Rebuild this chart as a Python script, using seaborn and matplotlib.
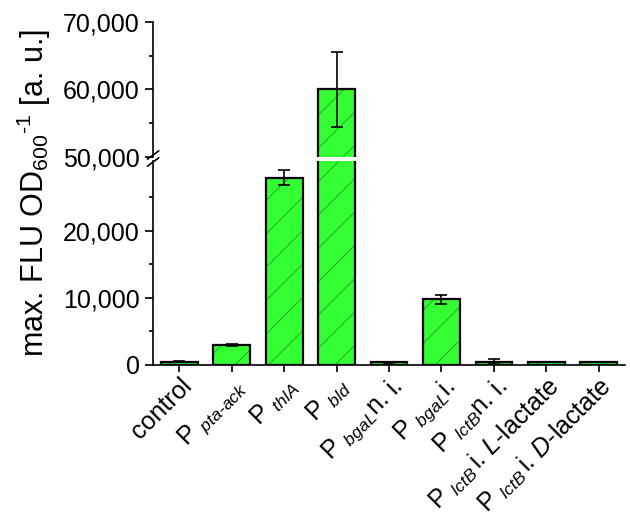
import matplotlib
matplotlib.use("Agg")
import matplotlib.pyplot as plt
import matplotlib.ticker as mticker
from matplotlib.patches import Rectangle
import seaborn as sns
import pandas as pd

# data
labels = [
    "control",
    r"P $_{pta\text{-}ack}$",
    r"P $_{thlA}$",
    r"P $_{bld}$",
    r"P $_{bgaL}$n. i.",
    r"P $_{bgaL}$i.",
    r"P $_{lctB}$n. i.",
    r"P $_{lctB}\,$i. $L$-lactate",
    r"P $_{lctB}\,$i. $D$-lactate",
]
values = [500, 3000, 27900, 60000, 400, 9800, 500, 450, 450]
errors = [80, 150, 1100, 5600, 60, 700, 350, 60, 60]

df = pd.DataFrame({"promoter": labels, "flu": values})

sns.set_style("ticks")
plt.rcParams["font.family"] = ["Liberation Sans", "DejaVu Sans"]
plt.rcParams["mathtext.fontset"] = "custom"
plt.rcParams["mathtext.rm"] = "Liberation Sans"
plt.rcParams["mathtext.it"] = "Liberation Sans:italic"
plt.rcParams["mathtext.bf"] = "Liberation Sans:bold"
plt.rcParams["hatch.linewidth"] = 0.6
for key in ("text.color", "xtick.color", "ytick.color", "axes.edgecolor",
            "axes.labelcolor"):
    plt.rcParams[key] = "black"

fig = plt.figure(figsize=(6.3, 5.22), dpi=100)
ax_top = fig.add_axes([0.243, 1 - 157 / 522, 0.749, (157 - 22) / 522])
ax_bot = fig.add_axes([0.243, 1 - 365 / 522, 0.749, (365 - 161) / 522])

for ax in (ax_top, ax_bot):
    sns.barplot(data=df, x="promoter", y="flu", ax=ax, color="#33ff33",
                edgecolor="#249a24", linewidth=0, width=0.7, errorbar=None,
                saturation=1, hatch="/")
    # black outline on top of the green hatch
    for p in list(ax.patches):
        ax.add_patch(Rectangle(p.get_xy(), p.get_width(), p.get_height(),
                               fill=False, edgecolor="black", linewidth=1.6,
                               zorder=p.get_zorder() + 0.1))
    ax.errorbar(labels, values, yerr=errors, fmt="none", ecolor="black",
                elinewidth=1.2, capsize=4, capthick=1.2, zorder=5)
    ax.set_xlim(-0.5, 8.5)
    ax.set_xlabel("")
    ax.set_ylabel("")
    ax.yaxis.set_major_formatter(mticker.FuncFormatter(lambda v, _: f"{v:,.0f}"))
    ax.tick_params(axis="y", labelsize=18, width=1.2, length=6, direction="out")
    ax.tick_params(axis="y", which="minor", width=1.2, length=3, direction="out")
    for s in ("top", "right"):
        ax.spines[s].set_visible(False)
    ax.spines["left"].set_linewidth(1.2)
    ax.spines["bottom"].set_linewidth(1.2)

ax_top.set_ylim(50000, 70000)
ax_top.yaxis.set_major_locator(mticker.FixedLocator([50000, 60000, 70000]))
ax_top.yaxis.set_minor_locator(mticker.FixedLocator([55000, 65000]))
ax_top.spines["bottom"].set_visible(False)
ax_top.tick_params(axis="x", bottom=False, labelbottom=False)

ax_bot.set_ylim(0, 30400)
ax_bot.yaxis.set_major_locator(mticker.FixedLocator([0, 10000, 20000]))
ax_bot.yaxis.set_minor_locator(mticker.FixedLocator([5000, 15000, 25000]))
ax_bot.tick_params(axis="x", labelsize=18, width=1.2, length=5, direction="out", pad=1)
plt.setp(ax_bot.get_xticklabels(), rotation=45, ha="right", rotation_mode="anchor")

# break marks on the y axis
kw = dict(color="black", lw=1.2, clip_on=False, transform=fig.transFigure)
x0 = 0.243
for yb in (1 - 155 / 522, 1 - 162 / 522):
    fig.add_artist(plt.Line2D([x0 - 0.009, x0 + 0.009], [yb - 0.008, yb + 0.008], **kw))

fig.text(0.053, 0.63, r"max. FLU OD$_{600}$$^{\text{-}1}$ [a. u.]", rotation=90,
         ha="center", va="center", fontsize=22)

fig.savefig("out.png", dpi=100)
